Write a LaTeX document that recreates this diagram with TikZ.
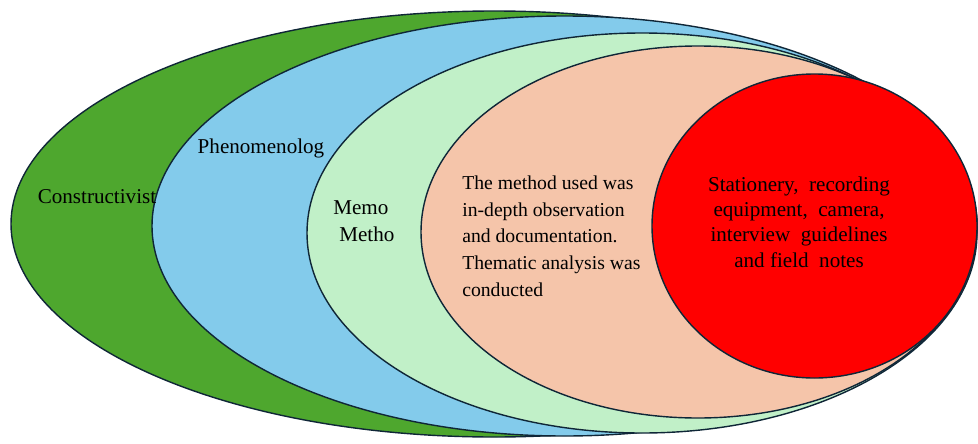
\documentclass[tikz,border=0pt]{standalone}
\usepackage{fontspec}
\setmainfont{Liberation Serif}
\usepackage{tikz}
\definecolor{ringedge}{RGB}{15,38,55}
\definecolor{paradigmgreen}{RGB}{78,167,46}
\definecolor{approachblue}{RGB}{131,203,235}
\definecolor{methodmint}{RGB}{193,240,200}
\definecolor{analysispeach}{RGB}{245,197,170}
\definecolor{toolred}{RGB}{255,0,0}
\tikzset{ring/.style={draw=ringedge, line width=1pt},
	ringtext/.style={font=\fontsize{15}{19}\selectfont, inner sep=0pt, align=center}}

\begin{document}
\begin{tikzpicture}[x=0.025cm, y=0.025cm]
			%%%%% START %%%%%
			\useasboundingbox (0, 0) rectangle (978, 443);
			
			\draw[ring, fill=paradigmgreen] (494, 219) ellipse (483 and 213);
			\draw[ring, fill=approachblue] (564.5, 217) ellipse (412.5 and 210);
			\draw[ring, fill=methodmint] (642, 210) ellipse (335 and 200);
			\draw[ring, fill=analysispeach] (698, 211) ellipse (277 and 186);
			\draw[ring, fill=toolred] (814.5, 217) ellipse (162.5 and 152);
			
			\node[ringtext] (paradigm) at (97, 246) {Constructivist};
			\node[ringtext] (approach) at (261, 295) {Phenomenolog};
			\node[ringtext, align=left, anchor=west] (method) at (333, 222) {Memo\\ \hspace*{0.15cm}Metho};
			\node[ringtext, align=left, anchor=west, font=\fontsize{14}{19}\selectfont] (analysis) at (462, 207)
				{The method used was\\ in-depth observation\\ and documentation.\\ Thematic analysis was\\ conducted};
			\node[ringtext, font=\fontsize{15}{18}\selectfont] (tools) at (799, 221)
				{Stationery,\ \ recording\\ equipment,\ \ camera,\\ interview\ \ guidelines\\ and field\ \ notes};
			
			%%%%% END %%%%%
		\end{tikzpicture}
\end{document}
